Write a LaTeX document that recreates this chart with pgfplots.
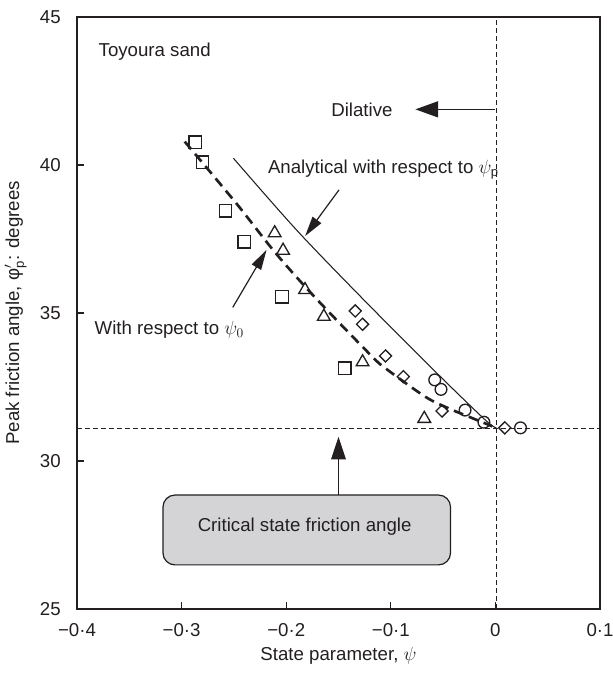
\documentclass[border=0pt]{standalone}
\usepackage{pgfplots}
\pgfplotsset{compat=1.18}
\usepackage{fontspec}
\setmainfont{Liberation Sans}
\usetikzlibrary{arrows.meta}
\definecolor{boxgray}{RGB}{212,212,214}
\definecolor{ink}{RGB}{35,31,32}
\newcommand{\fs}{\fontsize{14}{17}\selectfont}

\begin{document}
\begin{tikzpicture}
  \begin{axis}[
    scale only axis,
    width=392.25pt, height=444pt,
    xmin=-0.4, xmax=0.1,
    ymin=25, ymax=45,
    xtick={-0.4,-0.3,-0.2,-0.1,0,0.1},
    xticklabels={−0·4,−0·3,−0·2,−0·1,0,0·1},
    ytick={25,30,35,40,45},
    yticklabels={25,30,35,40,45},
    tick pos=left,
    tick align=inside,
    major tick length=5pt,
    every tick/.style={ink, line width=0.9pt},
    axis line style={ink, line width=1.3pt},
    font=\fs,
    every axis label/.append style={font=\fs, color=ink},
    ticklabel style={font=\fs, color=ink},
    xticklabel style={anchor=center, yshift=-15.75pt},
    yticklabel style={anchor=east, inner sep=0pt, xshift=-12pt},
    xlabel={State parameter, $\psi$},
    ylabel={Peak friction angle, φ$'_{\mathrm{p}}$: degrees},
    every axis x label/.style={at={(axis description cs:0.5,0)}, anchor=center, yshift=-35.25pt},
    every axis y label/.style={at={(axis description cs:0,0.5)}, xshift=-46pt, anchor=center, rotate=90},
    clip=false,
  ]
  \coordinate (sw) at (rel axis cs:0,0);

  % reference lines: critical state angle and psi = 0
  \addplot[ink, line width=0.8pt, dash pattern=on 3.5pt off 2.5pt]
    coordinates {(-0.4,31.1) (0.1,31.1)};
  \addplot[ink, line width=0.8pt, dash pattern=on 3.5pt off 2.5pt]
    coordinates {(0.001,25) (0.001,45)};

  % analytical curve (psi_p)
  \addplot[ink, line width=0.8pt, smooth]
    coordinates {(-0.2505,40.23) (-0.190,37.80) (-0.1257,35.44)
                 (-0.0543,32.91) (-0.0098,31.39) (0.001,31.11)};

  % fitted curve (psi_0)
  \addplot[ink, line width=2pt, smooth, dash pattern=on 7.5pt off 4.5pt]
    coordinates {(-0.297,40.79) (-0.2476,38.70) (-0.2098,37.01) (-0.1717,35.50)
                 (-0.1193,33.58) (-0.105,33.13) (-0.067,32.17) (-0.0448,31.78)
                 (-0.0257,31.50) (-0.0083,31.25) (-0.003,31.17)};

  % squares
  \addplot[only marks, mark=square, mark size=4.7pt, mark options={ink, line width=1pt, fill=white}]
    coordinates {(-0.287,40.77) (-0.280,40.09) (-0.258,38.46) (-0.240,37.41)
                 (-0.204,35.55) (-0.144,33.13)};
  % triangles
  \addplot[only marks, mark=triangle, mark size=5.5pt, mark options={ink, line width=1pt, fill=white}]
    coordinates {(-0.211,37.70) (-0.203,37.11) (-0.182,35.78) (-0.164,34.88)
                 (-0.127,33.34) (-0.068,31.43)};
  % diamonds
  \addplot[only marks, mark=square, mark size=3.2pt, mark options={ink, line width=1pt, fill=white, rotate=45}]
    coordinates {(-0.134,35.07) (-0.127,34.62) (-0.105,33.55) (-0.088,32.85)
                 (-0.051,31.69) (0.009,31.12)};
  % circles
  \addplot[only marks, mark=o, mark size=4.4pt, mark options={ink, line width=1pt}]
    coordinates {(-0.058,32.74) (-0.052,32.42) (-0.029,31.72) (-0.011,31.31)
                 (0.024,31.12)};

  % annotations
  \node[anchor=west, ink, font=\fs] at (axis cs:-0.3838,43.82) {Toyoura sand};
  \node[ink, font=\fs] at (axis cs:-0.1276,41.88) {Dilative};
  \draw[ink, line width=0.9pt, -{Triangle[length=17pt,width=12pt]}]
    (axis cs:0.0,41.88) -- (axis cs:-0.0765,41.88);
  \node[anchor=west, ink, font=\fs] at (axis cs:-0.2219,39.83) {Analytical with respect to $\psi_{\mathrm{p}}$};
  \draw[ink, line width=0.9pt, -{Triangle[length=15pt,width=8pt]}]
    (axis cs:-0.1495,39.16) -- (axis cs:-0.1819,37.60);
  \node[anchor=west, ink, font=\fs] at (axis cs:-0.3876,34.43) {With respect to $\psi_0$};
  \draw[ink, line width=0.9pt, -{Triangle[length=15pt,width=8pt]}]
    (axis cs:-0.2511,35.19) -- (axis cs:-0.2188,37.13);
  \draw[ink, line width=0.9pt, -{Triangle[length=17pt,width=11pt]}]
    (axis cs:-0.150,28.85) -- (axis cs:-0.150,30.82);
  \draw[ink, line width=0.9pt, fill=boxgray, rounded corners=9pt]
    (axis cs:-0.3178,26.49) rectangle (axis cs:-0.0429,28.85);
  \node[ink, font=\fs] at (axis cs:-0.1824,27.77) {Critical state friction angle};
  \end{axis}
  \pgfresetboundingbox
  \path (sw) ++(-57.75pt,-52.5pt) rectangle ++(459.75pt,509.25pt);
\end{tikzpicture}
\end{document}
